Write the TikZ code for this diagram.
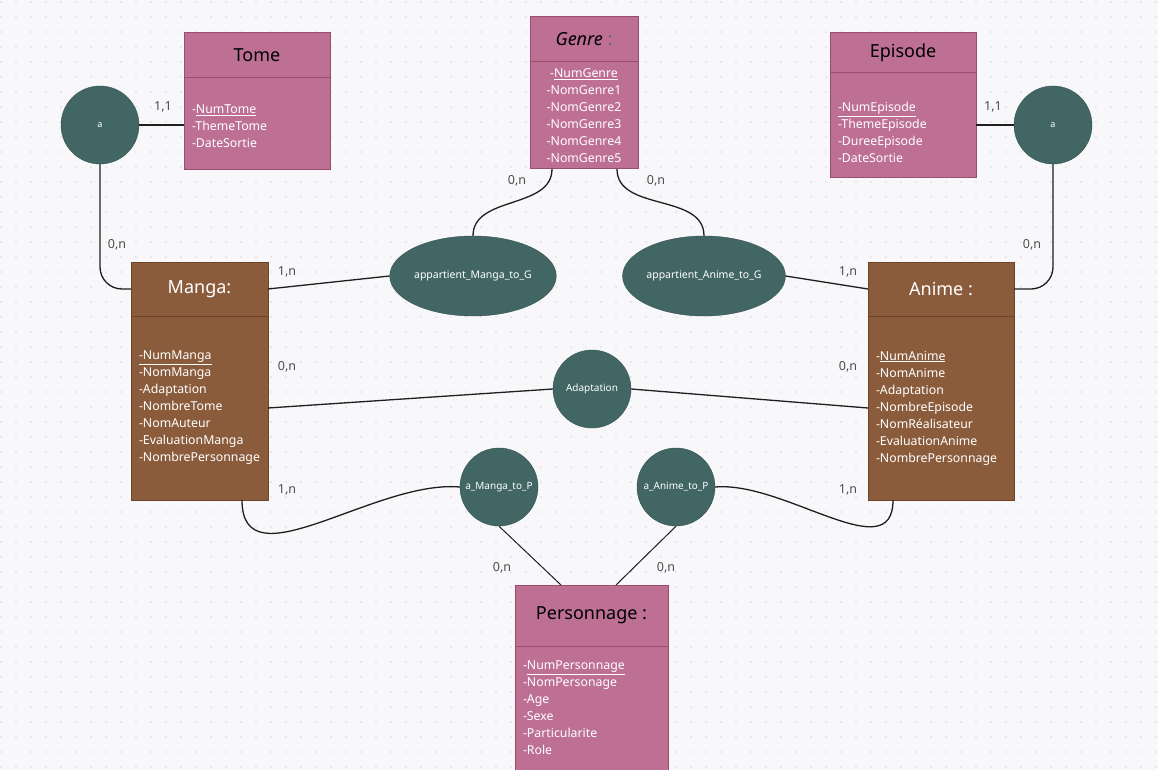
\documentclass[tikz,border=0pt]{standalone}
\usepackage{fontspec}
\setmainfont{Noto Sans}
\usetikzlibrary{positioning, shapes.geometric}

\definecolor{rose}{HTML}{BE7094}
\definecolor{roseline}{HTML}{9C4D6E}
\definecolor{brun}{HTML}{8B5C3C}
\definecolor{brunline}{HTML}{6E442B}
\definecolor{sarcelle}{HTML}{416663}
\definecolor{sarcelleline}{HTML}{34524F}
\definecolor{fond}{HTML}{F8F8FB}
\definecolor{grille}{HTML}{D6D6DE}

\begin{document}
\begin{tikzpicture}[
        x=1pt, y=-1pt,
        entete/.style={
            rectangle, draw=#1line, fill=#1, line width=1pt,
            outer sep=0pt, inner sep=0pt, text centered,
            font=\fontsize{18}{22}\selectfont
        },
        attributs/.style={
            rectangle, draw=#1line, fill=#1, line width=1pt,
            outer sep=0pt, inner xsep=8pt, inner ysep=0pt,
            align=left, text=white, font=\fontsize{12.3}{17}\selectfont
        },
        asso/.style={
            circle, draw=sarcelleline, fill=sarcelle, minimum size=78pt,
            inner sep=0pt, text=white, font=\fontsize{10}{12}\selectfont
        },
        assoovale/.style={
            ellipse, draw=sarcelleline, fill=sarcelle, minimum width=148pt,
            minimum height=80pt, inner sep=0pt, text=white,
            font=\fontsize{10.5}{12}\selectfont
        },
        card/.style={font=\fontsize{12.5}{14}\selectfont, text=black!70},
        lien/.style={draw=black!88, line width=1.3pt},
    ]

    % ── Fond pointillé ──
    \useasboundingbox (0,0) rectangle (1158,770);
    \fill[fond] (0,0) rectangle (1158,770);
    \foreach \i in {0,...,77}
        \foreach \j in {0,...,51}
            \fill[grille] (1+15*\i, 2+15*\j) circle[radius=0.9];

    % ── Tome ──
    \node[entete=rose, minimum width=146pt, minimum height=45pt] (tomeHead) at (257,55.5) {Tome};
    \node[attributs=rose, below=0pt of tomeHead, minimum width=146pt, minimum height=92pt, text width=130pt] (tomeBody)
        {\mbox{}\\[-3pt]-\underline{NumTome}\\-ThemeTome\\-DateSortie};

    % ── Genre ──
    \node[entete=rose, minimum width=108pt, minimum height=45pt] (genreHead) at (584,39.5)
        {\textbf{\textit{Genre}} {\color{black!60}\textbf{:}}};
    \node[attributs=rose, below=0pt of genreHead, minimum width=108pt, minimum height=107pt, inner xsep=0pt, align=center] (genreBody)
        {-\underline{NumGenre}\\-NomGenre1\\-NomGenre2\\-NomGenre3\\-NomGenre4\\-NomGenre5};

    % ── Episode ──
    \node[entete=rose, minimum width=146pt, minimum height=40pt] (episodeHead) at (903,53) {Episode};
    \node[attributs=rose, below=0pt of episodeHead, minimum width=146pt, minimum height=105pt, text width=130pt] (episodeBody)
        {\mbox{}\\[7pt]\underline{-NumEpisode}\\-ThemeEpisode\\-DureeEpisode\\-DateSortie};

    % ── Manga ──
    \node[entete=brun, minimum width=137pt, minimum height=54pt, text=white] (mangaHead) at (199.5,289) {Manga:};
    \node[attributs=brun, below=0pt of mangaHead, minimum width=137pt, minimum height=184pt, text width=121pt] (mangaBody)
        {\underline{-NumManga}\\-NomManga\\-Adaptation\\-NombreTome\\-NomAuteur\\-EvaluationManga\\-NombrePersonnage};

    % ── Anime ──
    \node[entete=brun, minimum width=146pt, minimum height=54pt, text=white, font=\fontsize{18}{22}\selectfont\bfseries] (animeHead) at (941,289) {Anime :};
    \node[attributs=brun, below=0pt of animeHead, minimum width=146pt, minimum height=184pt, text width=130pt] (animeBody)
        {-\underline{NumAnime}\\-NomAnime\\-Adaptation\\-NombreEpisode\\-NomRéalisateur\\-EvaluationAnime\\-NombrePersonnage};

    % ── Personnage ──
    \node[entete=rose, minimum width=153pt, minimum height=61pt] (persoHead) at (591.5,615.5) {Personnage :};
    \node[attributs=rose, below=0pt of persoHead, minimum width=153pt, minimum height=124pt, text width=137pt] (persoBody)
        {-\underline{NumPersonnage}\\-NomPersonage\\-Age\\-Sexe\\-Particularite\\-Role};

    % ── Associations ──
    \node[asso, font=\fontsize{9}{11}\selectfont] (aTome) at (100,125) {a};
    \node[asso, font=\fontsize{9}{11}\selectfont] (aEpisode) at (1053,125) {a};
    \node[assoovale] (apManga) at (473,276) {appartient\_Manga\_to\_G};
    \node[assoovale] (apAnime) at (704,276) {appartient\_Anime\_to\_G};
    \node[asso] (adaptation) at (592,389) {Adaptation};
    \node[asso] (aMangaP) at (499,487) {a\_Manga\_to\_P};
    \node[asso] (aAnimeP) at (676,487) {a\_Anime\_to\_P};

    % ── Liens ──
    \draw[lien] (aTome.east) -- (aTome.east -| tomeBody.west);
    \draw[lien, rounded corners=22pt] (aTome.south) |- (mangaHead.west);
    \draw[lien] (aEpisode.west) -- (aEpisode.west -| episodeBody.east);
    \draw[lien, rounded corners=22pt] (aEpisode.south) |- (animeHead.east);
    \draw[lien] ([xshift=-32pt]genreBody.south) to[out=-90,in=90] (apManga.north);
    \draw[lien] ([xshift=33pt]genreBody.south) to[out=-90,in=90] (apAnime.north);
    \draw[lien] (mangaHead.east) -- (apManga.west);
    \draw[lien] (apAnime.east) -- (animeHead.west);
    \draw[lien] (mangaBody.east) -- (adaptation.west);
    \draw[lien] (adaptation.east) -- (animeBody.west);
    \draw[lien] ([xshift=42.5pt]mangaBody.south) to[out=-90,in=175] (aMangaP.west);
    \draw[lien] (aAnimeP.east) to[out=5,in=-90] ([xshift=-48pt]animeBody.south);
    \draw[lien, line width=1pt] (aMangaP.south) -- ([xshift=-30.5pt]persoHead.north);
    \draw[lien, line width=1pt] (aAnimeP.south) -- ([xshift=24.5pt]persoHead.north);

    % ── Cardinalités ──
    \node[card] (cTome) at (163,107) {1,1};
    \node[card] (cMangaTome) at (117,245) {0,n};
    \node[card] (cEpisode) at (993,107) {1,1};
    \node[card] (cAnimeEp) at (1032,245) {0,n};
    \node[card] (cGenreM) at (517,181) {0,n};
    \node[card] (cGenreA) at (656,181) {0,n};
    \node[card] (cMangaG) at (287,272) {1,n};
    \node[card] (cAnimeG) at (848,272) {1,n};
    \node[card] (cMangaAd) at (287,367) {0,n};
    \node[card] (cAnimeAd) at (848,367) {0,n};
    \node[card] (cMangaP) at (287,490) {1,n};
    \node[card] (cAnimeP) at (848,490) {1,n};
    \node[card] (cPersoM) at (502,568) {0,n};
    \node[card] (cPersoA) at (666,568) {0,n};

\end{tikzpicture}
\end{document}
